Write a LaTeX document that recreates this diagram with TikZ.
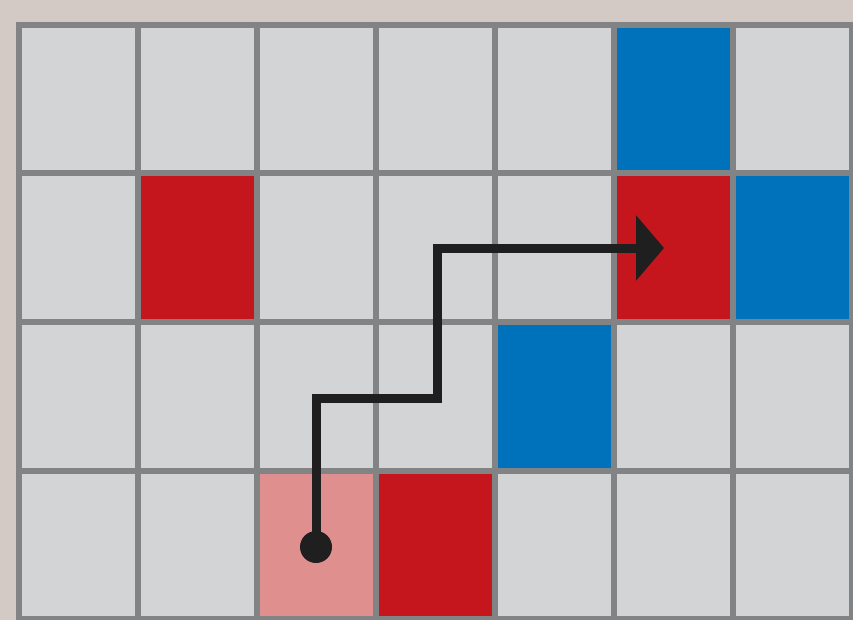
\documentclass[tikz,border=0pt]{standalone}
\usetikzlibrary{arrows.meta}
\definecolor{bgc}{HTML}{D3CAC6}
\definecolor{cellc}{HTML}{D3D4D6}
\definecolor{gridc}{HTML}{818385}
\definecolor{redc}{HTML}{C4161C}
\definecolor{bluec}{HTML}{0071BB}
\definecolor{pinkc}{HTML}{E08F8F}
\definecolor{pathc}{HTML}{1F1F20}
\tikzset{
  gridline/.style={draw=gridc, line width=6pt},
  route/.style={draw=pathc, line width=9pt, line join=miter, -{Triangle[length=28pt,width=64pt]}},
}
\begin{document}
\begin{tikzpicture}[x=1pt,y=-1pt]
\useasboundingbox (0,0) rectangle (853,620);
\fill[bgc] (0,0) rectangle (853,620);
% cells: columns at 19+119*i, rows at 25+148.5*j
\fill[cellc] (19,25) rectangle (852,619);
\def\cw{119}\def\ch{148.5}
\newcommand{\cellfill}[3]{\fill[#3] ({19+\cw*#1},{25+\ch*#2}) rectangle ({19+\cw*(#1+1)},{25+\ch*(#2+1)});}
\cellfill{5}{0}{bluec}
\cellfill{1}{1}{redc}
\cellfill{5}{1}{redc}
\cellfill{6}{1}{bluec}
\cellfill{4}{2}{bluec}
\cellfill{2}{3}{pinkc}
\cellfill{3}{3}{redc}
% grid
\foreach \i in {0,...,7} {\draw[gridline] ({19+\cw*\i},22) -- ({19+\cw*\i},623);}
\foreach \j in {0,...,4} {\draw[gridline] (16,{25+\ch*\j}) -- (856,{25+\ch*\j});}
% route
\coordinate (start) at (316,547);
\coordinate (b1) at (316,398);
\coordinate (b2) at (437,398);
\coordinate (b3) at (437,248);
\coordinate (goal) at (664,248);
\fill[pathc] (start) circle (16);
\draw[route] (start) -- (b1) -- (b2) -- (b3) -- (goal);
\end{tikzpicture}
\end{document}
